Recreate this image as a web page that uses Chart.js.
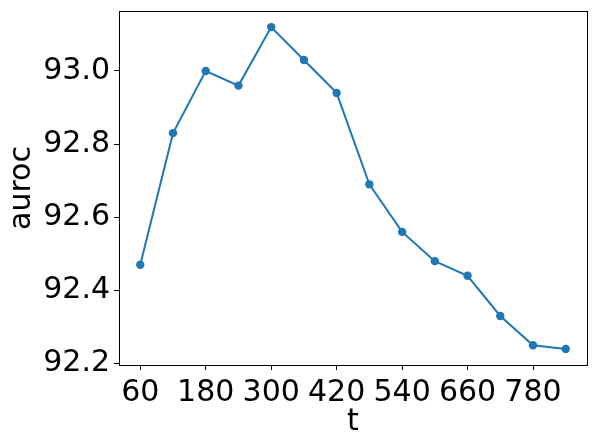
<!DOCTYPE html>
<html>
<head>
<meta charset="utf-8">
<script src="https://cdn.jsdelivr.net/npm/chart.js@4"></script>
<style>
html,body{margin:0;padding:0;background:#fff;}
canvas{display:block;}
</style>
</head>
<body>
<canvas id="c" width="598" height="448"></canvas>
<script>
const tValues = [60, 120, 180, 240, 300, 360, 420, 480, 540, 600, 660, 720, 780, 840];
const aurocValues = [92.47, 92.83, 93.00, 92.96, 93.12, 93.03, 92.94, 92.69, 92.56, 92.48, 92.44, 92.33, 92.25, 92.24];
const xTickValues = [60, 180, 300, 420, 540, 660, 780];
const yTickValues = [92.2, 92.4, 92.6, 92.8, 93.0];
const xLabel = 't';
const yLabel = 'auroc';

const xSpan = Math.max(...tValues) - Math.min(...tValues);
const ySpan = Math.max(...aurocValues) - Math.min(...aurocValues);
const xMin = Math.min(...tValues) - 0.05 * xSpan;
const xMax = Math.max(...tValues) + 0.05 * xSpan;
const yMin = Math.min(...aurocValues) - 0.05 * ySpan;
const yMax = Math.max(...aurocValues) + 0.05 * ySpan;

const FONT = 'DejaVu Sans';

const framePlugin = {
  id: 'frame',
  afterDraw(chart) {
    const {ctx, chartArea: a} = chart;
    ctx.save();
    ctx.strokeStyle = '#000';
    ctx.lineWidth = 1;
    ctx.strokeRect(Math.round(a.left) + 0.5, Math.round(a.top) + 0.5, Math.round(a.right - a.left), Math.round(a.bottom - a.top));
    ctx.restore();
  }
};

new Chart(document.getElementById('c'), {
  type: 'line',
  data: {
    datasets: [{
      data: tValues.map((t, i) => ({x: t, y: aurocValues[i]})),
      borderColor: '#1f77b4',
      backgroundColor: '#1f77b4',
      borderWidth: 2,
      pointRadius: 4.2,
      pointBorderWidth: 0,
      pointHoverRadius: 4.2,
      tension: 0,
      fill: false,
      clip: false
    }]
  },
  options: {
    responsive: false,
    animation: false,
    devicePixelRatio: 1,
    layout: {padding: {top: 11, right: 11, left: 0, bottom: 0}},
    plugins: {legend: {display: false}, tooltip: {enabled: false}},
    scales: {
      x: {
        type: 'linear',
        min: xMin,
        max: xMax,
        afterBuildTicks(scale) { scale.ticks = xTickValues.map(v => ({value: v})); },
        afterFit(scale) { scale.height = 83; scale.paddingLeft = 0; scale.paddingRight = 0; },
        border: {display: false},
        grid: {drawOnChartArea: false, drawTicks: true, tickLength: 5, color: '#000', lineWidth: 1},
        ticks: {
          color: '#000',
          font: {family: FONT, size: 30},
          padding: 5,
          maxRotation: 0,
          autoSkip: false,
          callback: v => String(v)
        },
        title: {
          display: true,
          text: xLabel,
          color: '#000',
          font: {family: FONT, size: 30},
          padding: {top: 0, bottom: 8}
        }
      },
      y: {
        type: 'linear',
        min: yMin,
        max: yMax,
        afterBuildTicks(scale) { scale.ticks = yTickValues.map(v => ({value: v})); },
        afterFit(scale) { scale.width = 119; scale.paddingTop = 0; scale.paddingBottom = 0; },
        border: {display: false},
        grid: {drawOnChartArea: false, drawTicks: true, tickLength: 5, color: '#000', lineWidth: 1},
        ticks: {
          color: '#000',
          font: {family: FONT, size: 30},
          padding: 4,
          autoSkip: false,
          callback: v => v.toFixed(1)
        },
        title: {
          display: true,
          text: yLabel,
          color: '#000',
          font: {family: FONT, size: 30},
          padding: {top: 4, bottom: 0}
        }
      }
    }
  },
  plugins: [framePlugin]
});
</script>
</body>
</html>
